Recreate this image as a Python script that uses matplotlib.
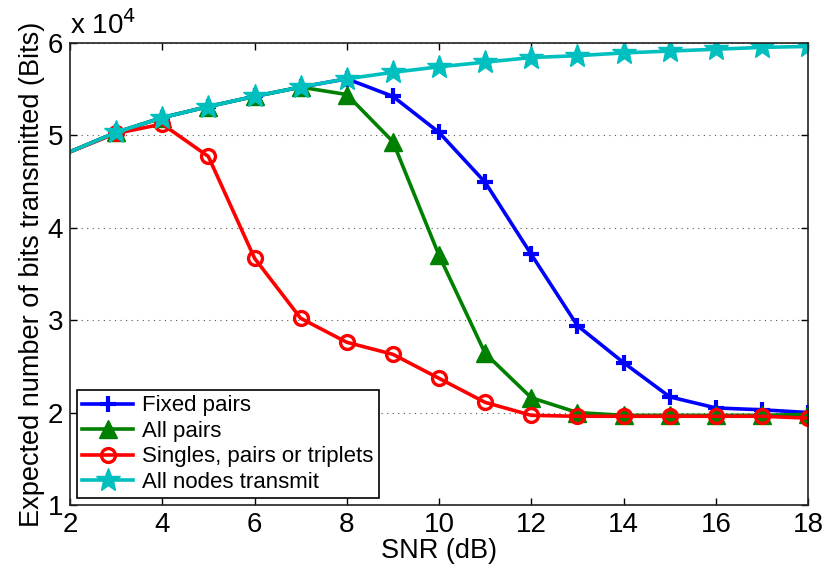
import numpy as np
import matplotlib.pyplot as plt
from matplotlib.ticker import FuncFormatter, MultipleLocator

plt.rcParams['font.family'] = ['Liberation Sans', 'DejaVu Sans']

# SNR values (dB)
snr = [2, 3, 4, 5, 6, 7, 8, 9, 10, 11, 12, 13, 14, 15, 16, 17, 18]

# Expected number of bits transmitted
fixed_pairs = [48200, 50300, 51900, 53100, 54200, 55200, 56100, 54200, 50300,
               44900, 37100, 29400, 25400, 21700, 20500, 20300, 20000]
all_pairs = [48200, 50300, 51900, 53100, 54200, 55200, 54400, 49300, 37000,
             26400, 21600, 20000, 19700, 19700, 19700, 19700, 19800]
singles = [48200, 50200, 51200, 47700, 36700, 30200, 27600, 26300, 23700,
           21100, 19700, 19600, 19600, 19600, 19600, 19600, 19400]
all_nodes = [48200, 50300, 51900, 53100, 54200, 55200, 56100, 56800, 57400,
             57900, 58400, 58600, 58900, 59100, 59300, 59500, 59600]

fig = plt.figure(figsize=(8.28, 5.70), dpi=100)
ax = fig.add_axes([0.0845, 0.114, 0.8915, 0.811])

lw = 2.6
skip_first = slice(1, None)
ax.plot(snr, fixed_pairs, color='#0000ff', lw=lw, marker='+', ms=12, mew=3,
        markevery=skip_first, label='Fixed pairs')
ax.plot(snr, all_pairs, color='#008000', lw=lw, marker='^', ms=12.5,
        markevery=skip_first, label='All pairs')
ax.plot(snr, singles, color='#ff0000', lw=lw, marker='o', ms=10, mew=2.4,
        mfc='none', markevery=skip_first, label='Singles, pairs or triplets')
ax.plot(snr, all_nodes, color='#00bfbf', lw=lw, marker='*', ms=18,
        markevery=skip_first, label='All nodes transmit')

ax.set_xlim(2, 18)
ax.set_ylim(10000, 60000)
ax.xaxis.set_major_locator(MultipleLocator(2))
ax.yaxis.set_major_locator(MultipleLocator(10000))
ax.yaxis.set_major_formatter(FuncFormatter(lambda v, p: f'{v / 1e4:.0f}'))

ax.yaxis.grid(True, linestyle=(0, (1, 4)), color='#555555', lw=0.8)
ax.tick_params(direction='in', top=True, right=True, length=5, width=1,
               labelsize=20, pad=5)
for s in ax.spines.values():
    s.set_linewidth(1.2)
    s.set_color('#222222')

ax.set_xlabel('SNR (dB)', fontsize=19.5, labelpad=0)
ax.set_ylabel('Expected number of bits transmitted (Bits)', fontsize=19.5,
              labelpad=2)
ax.text(0.0, 1.005, r'x 10$^4$', transform=ax.transAxes, fontsize=20,
        ha='left', va='bottom')

leg = ax.legend(loc='lower left', fontsize=16, frameon=True, fancybox=False,
                edgecolor='black', framealpha=1, borderaxespad=0.3,
                handlelength=2.3, handletextpad=0.4, labelspacing=0.2,
                borderpad=0.25)
leg.get_frame().set_linewidth(1.2)

fig.savefig('out.png', dpi=100)
